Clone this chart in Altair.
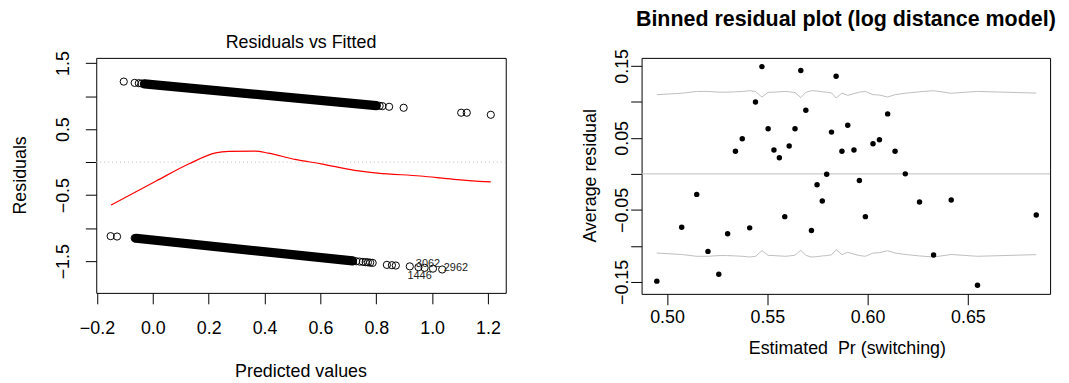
import altair as alt
import pandas as pd

FONT = "Liberation Sans"

# ---------------- Left panel: Residuals vs Fitted ----------------
# dense bands of overlapping open circles (start / end of the solid part)
top_band_fit = [-0.030, 0.800]
top_band_res = [1.186, 0.856]
bot_band_fit = [-0.060, 0.715]
bot_band_res = [-1.152, -1.494]

# individually visible open circles
top_pts_fit = [-0.104, -0.065, -0.050, -0.040, -0.030, 0.790, 0.800, 0.812, 0.822,
               0.846, 0.898, 1.104, 1.124, 1.210]
top_pts_res = [1.219, 1.200, 1.195, 1.190, 1.186, 0.860, 0.856, 0.852, 0.848,
               0.838, 0.823, 0.748, 0.748, 0.717]
bot_pts_fit = [-0.151, -0.128, -0.065, -0.060, 0.700, 0.715, 0.728, 0.740, 0.752,
               0.762, 0.770, 0.778, 0.787, 0.838, 0.856, 0.870, 0.920, 0.951,
               0.973, 1.003, 1.036]
bot_pts_res = [-1.120, -1.126, -1.150, -1.152, -1.487, -1.494, -1.500, -1.505, -1.510,
               -1.514, -1.517, -1.521, -1.525, -1.555, -1.560, -1.565, -1.578, -1.590,
               -1.600, -1.612, -1.625]

# red smoother
smooth_fit = [-0.150, 0.012, 0.130, 0.225, 0.272, 0.367, 0.414, 0.509, 0.603,
              0.722, 0.805, 0.958, 1.077, 1.210]
smooth_res = [-0.650, -0.285, -0.025, 0.141, 0.162, 0.166, 0.136, 0.041, -0.025,
              -0.124, -0.165, -0.210, -0.260, -0.300]

# point id labels
id_text = ["3062", "2962", "1446"]
id_fit = [0.985, 1.085, 0.955]
id_res = [-1.548, -1.600, -1.725]

left_x_ticks = [-0.2, 0.0, 0.2, 0.4, 0.6, 0.8, 1.0, 1.2]
left_y_ticks = [-1.5, -1.0, -0.5, 0.0, 0.5, 1.0, 1.5]
left_y_shown = ["\u22121.5", "\u22120.5", "0.5", "1.5"]

# ---------------- Right panel: binned residual plot ----------------
bin_pr = [0.4949, 0.5073, 0.5148, 0.5204, 0.5258, 0.5302, 0.5341, 0.5375, 0.5412, 0.5441,
          0.5473, 0.5504, 0.5533, 0.5560, 0.5587, 0.5609, 0.5638, 0.5667, 0.5692, 0.5720,
          0.5748, 0.5774, 0.5796, 0.5820, 0.5843, 0.5872, 0.5901, 0.5932, 0.5959, 0.5989,
          0.6027, 0.6059, 0.6100, 0.6137, 0.6188, 0.6259, 0.6329, 0.6417, 0.6548, 0.6841]
bin_res = [-0.1490, -0.0741, -0.0285, -0.1077, -0.1394, -0.0833, 0.0313, 0.0488, -0.0750, 0.0998,
           0.1490, 0.0626, 0.0331, 0.0225, -0.0594, 0.0386, 0.0626, 0.1436, 0.0883, -0.0787,
           -0.0152, -0.0377, -0.0005, 0.0580, 0.1357, 0.0313, 0.0676, 0.0331, -0.0092, -0.0594,
           0.0419, 0.0474, 0.0833, 0.0313, 0.0000, -0.0391, -0.1127, -0.0364, -0.1546, -0.0571]
se_upper = [0.1100, 0.1120, 0.1145, 0.1145, 0.1135, 0.1135, 0.1140, 0.1145, 0.1155, 0.1145,
            0.1067, 0.1132, 0.1135, 0.1140, 0.1145, 0.1140, 0.1130, 0.1060, 0.1132, 0.1155,
            0.1150, 0.1140, 0.1135, 0.1125, 0.1053, 0.1122, 0.1090, 0.1115, 0.1135, 0.1145,
            0.1100, 0.1095, 0.1067, 0.1100, 0.1120, 0.1140, 0.1155, 0.1120, 0.1145, 0.1122]
se_lower = [-0.1100, -0.1120, -0.1145, -0.1145, -0.1135, -0.1135, -0.1140, -0.1145, -0.1155, -0.1145,
            -0.1067, -0.1132, -0.1135, -0.1140, -0.1145, -0.1140, -0.1130, -0.1060, -0.1132, -0.1155,
            -0.1150, -0.1140, -0.1135, -0.1125, -0.1053, -0.1122, -0.1090, -0.1115, -0.1135, -0.1145,
            -0.1100, -0.1095, -0.1067, -0.1100, -0.1120, -0.1140, -0.1155, -0.1120, -0.1145, -0.1122]

right_x_ticks = [0.50, 0.55, 0.60, 0.65]
right_y_ticks = [-0.15, -0.10, -0.05, 0.0, 0.05, 0.10, 0.15]
right_y_shown = ["\u22120.15", "\u22120.05", "0.05", "0.15"]

# ---------------- geometry (plot boxes) ----------------
LW, LH = 413, 237
RW, RH = 412, 238
GRAY = "#bebebe"


def shown_expr(lst):
    arr = ",".join("'" + s + "'" for s in lst)
    return "indexof([" + arr + "], datum.label) >= 0 ? datum.label : ''"


# ---------- left chart ----------
xL_scale = alt.Scale(domain=[-0.2025, 1.2635], nice=False, zero=False)
yL_scale = alt.Scale(domain=[-1.979, 1.578], nice=False, zero=False)
xL = alt.X("fit:Q", scale=xL_scale,
           axis=alt.Axis(values=left_x_ticks, format=".1f", title=None, labelPadding=15.9,
                         labelOverlap=False, labelFlush=False))
yL = alt.Y("res:Q", scale=yL_scale,
           axis=alt.Axis(values=left_y_ticks, format=".1f", title=None, labelExpr=shown_expr(left_y_shown),
                         labelAngle=270, labelAlign="center", labelBaseline="middle",
                         labelPadding=21.6, labelOverlap=False, labelFlush=False))

zeroL = alt.Chart(pd.DataFrame({"res": [0.0]})).mark_rule(
    color=GRAY, strokeDash=[1, 3], strokeWidth=1).encode(y=yL)

bands_df = pd.DataFrame({
    "fit": top_band_fit + bot_band_fit,
    "res": top_band_res + bot_band_res,
    "band": ["top"] * len(top_band_fit) + ["bottom"] * len(bot_band_fit),
})
bands = alt.Chart(bands_df).mark_line(color="black", strokeWidth=9.3, strokeCap="round").encode(
    x=xL, y=yL, detail="band:N")

pts_df = pd.DataFrame({"fit": top_pts_fit + bot_pts_fit, "res": top_pts_res + bot_pts_res})
pts = alt.Chart(pts_df).mark_point(shape="circle", filled=False, size=53, strokeWidth=1,
                                   color="black", opacity=1).encode(x=xL, y=yL)

smooth = alt.Chart(pd.DataFrame({"fit": smooth_fit, "res": smooth_res})).mark_line(
    color="red", strokeWidth=1.2, interpolate="monotone").encode(x=xL, y=yL)

ids = alt.Chart(pd.DataFrame({"fit": id_fit, "res": id_res, "t": id_text})).mark_text(
    font=FONT, fontSize=11, color="#222222", align="center", baseline="middle").encode(
    x=xL, y=yL, text="t:N")


def label(text, x, y, size=18, angle=0, weight="normal"):
    return alt.Chart(pd.DataFrame({"t": [text]})).mark_text(
        font=FONT, fontSize=size, fontWeight=weight, color="black", align="center",
        baseline="alphabetic", angle=angle).encode(
        text="t:N", x=alt.value(x), y=alt.value(y))


left = alt.layer(
    zeroL, bands, pts, smooth, ids,
    label("Residuals vs Fitted", LW / 2, -10),
    label("Predicted values", LW / 2, 322.3),
    label("Residuals", -70.8, LH / 2, angle=270),
).properties(width=LW, height=LH)

# ---------- right chart ----------
xR_scale = alt.Scale(domain=[0.4873, 0.6910], nice=False, zero=False)
yR_scale = alt.Scale(domain=[-0.1667, 0.1611], nice=False, zero=False)
xR = alt.X("pr:Q", scale=xR_scale,
           axis=alt.Axis(values=right_x_ticks, format=".2f", title=None, labelPadding=3.9,
                         labelOverlap=False, labelFlush=False))
yR = alt.Y("r:Q", scale=yR_scale,
           axis=alt.Axis(values=right_y_ticks, format=".2f", title=None, labelExpr=shown_expr(right_y_shown),
                         labelAngle=270, labelAlign="center", labelBaseline="middle",
                         labelPadding=8.5, labelOverlap=False, labelFlush=False))

zeroR = alt.Chart(pd.DataFrame({"r": [0.0]})).mark_rule(color=GRAY, strokeWidth=1).encode(y=yR)
se_df = pd.DataFrame({
    "pr": bin_pr + bin_pr,
    "r": se_upper + se_lower,
    "side": ["upper"] * len(bin_pr) + ["lower"] * len(bin_pr),
})
se_lines = alt.Chart(se_df).mark_line(color=GRAY, strokeWidth=1).encode(x=xR, y=yR, detail="side:N")
dots = alt.Chart(pd.DataFrame({"pr": bin_pr, "r": bin_res})).mark_circle(
    size=30, color="black", opacity=1).encode(x=xR, y=yR)

right = alt.layer(
    zeroR, se_lines, dots,
    label("Binned residual plot (log distance model)", RW / 2, -32, size=21.6, weight="bold"),
    label("Estimated\u00a0 Pr (switching)", RW / 2 + 1.5, 299),
    label("Average residual", -46.3, RH / 2, angle=270),
).properties(width=RW, height=RH)

chart = alt.hconcat(left, right, spacing=137, bounds="flush").configure_view(
    stroke="black", strokeWidth=1, fill=None
).configure_axis(
    labelFont=FONT, labelFontSize=18, labelColor="black", tickColor="black",
    tickSize=11, tickWidth=1, grid=False, domain=False
).properties(
    padding={"left": 3, "top": -1.3, "right": 4, "bottom": 4},
    background="white",
)

chart.save("out.html", embed_options={"renderer": "svg", "actions": False})
